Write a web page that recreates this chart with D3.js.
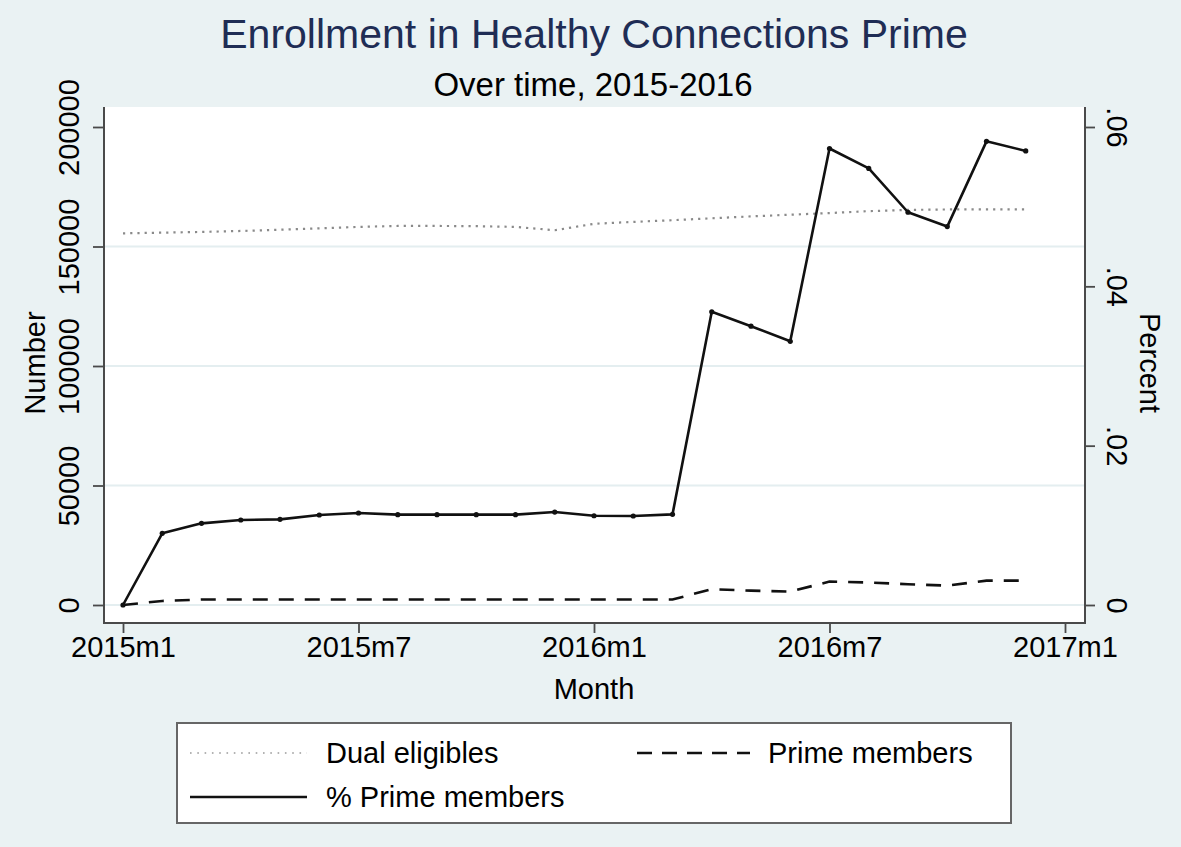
<!DOCTYPE html>
<html>
<head>
<meta charset="utf-8">
<script src="https://cdn.jsdelivr.net/npm/d3@7"></script>
<style>
  html, body { margin: 0; padding: 0; background: #EAF2F3; }
  svg { display: block; }
  text { font-family: Helvetica, "Liberation Sans", Arial, sans-serif; }
</style>
</head>
<body>
<svg id="chart" width="1181" height="847"></svg>
<script>
// ---------------- data ----------------
const months = ["2015m1","2015m2","2015m3","2015m4","2015m5","2015m6","2015m7","2015m8","2015m9","2015m10","2015m11","2015m12",
                "2016m1","2016m2","2016m3","2016m4","2016m5","2016m6","2016m7","2016m8","2016m9","2016m10","2016m11","2016m12"];
const dualEligibles = [155500,155800,156100,156500,157000,157600,158200,158600,158600,158500,158200,156800,
                       159500,160300,161000,161800,162600,163300,164000,164800,165300,165500,165500,165500];
const primeMembers = [0,1700,2300,2300,2300,2300,2300,2300,2300,2300,2300,2300,
                      2300,2300,2300,6600,6000,5600,9800,9400,8700,8100,10200,10200];
const pctPrime = [0,0.0090,0.01025,0.01067,0.01075,0.0113,0.01155,0.01134,0.01134,0.01134,0.01134,0.01167,
                  0.0112,0.01117,0.01138,0.0368,0.0350,0.0331,0.0573,0.0548,0.0493,0.0475,0.0582,0.0570];
const xTickLabels = ["2015m1","2015m7","2016m1","2016m7","2017m1"];
const xTickIndex = [0,6,12,18,24];
const leftTicks = [0,50000,100000,150000,200000];
const leftGrid = [0,50000,100000,150000];
const rightTicks = [0,0.02,0.04,0.06];
const titleText = "Enrollment in Healthy Connections Prime";
const subtitleText = "Over time, 2015-2016";

// ---------------- layout ----------------
const W = 1181, H = 847;
const P = { left: 104, right: 1085, top: 107, bottom: 623 };
const FS = 29;
const svg = d3.select("#chart");

svg.append("rect").attr("x",0).attr("y",0).attr("width",W).attr("height",H).attr("fill","#EAF2F3");
svg.append("rect").attr("x",P.left).attr("y",P.top).attr("width",P.right-P.left).attr("height",P.bottom-P.top).attr("fill","#ffffff");

const x = d3.scaleLinear().domain([0,24]).range([123,1065]);
const yL = d3.scaleLinear().domain([0,200000]).range([605,127]);
const yR = d3.scaleLinear().domain([0,0.06]).range([605,127]);

// grid
svg.append("g").selectAll("line").data(leftGrid).join("line")
  .attr("x1",P.left).attr("x2",P.right)
  .attr("y1",d=>yL(d)).attr("y2",d=>yL(d))
  .attr("stroke","#E4EEF0").attr("stroke-width",2);

// series
const lineDual = d3.line().x((d,i)=>x(i)).y(d=>yL(d));
const lineRight = d3.line().x((d,i)=>x(i)).y(d=>yR(d));

svg.append("path").datum(dualEligibles).attr("d",lineDual)
  .attr("fill","none").attr("stroke","#8a8a8a").attr("stroke-width",2.2).attr("stroke-dasharray","2.2,5");
svg.append("path").datum(primeMembers).attr("d",lineDual)
  .attr("fill","none").attr("stroke","#111").attr("stroke-width",2.6).attr("stroke-dasharray","15,11");
svg.append("path").datum(pctPrime).attr("d",lineRight)
  .attr("fill","none").attr("stroke","#111").attr("stroke-width",2.6).attr("stroke-linejoin","round");
svg.append("g").selectAll("circle").data(pctPrime).join("circle")
  .attr("cx",(d,i)=>x(i)).attr("cy",d=>yR(d)).attr("r",2.6).attr("fill","#111");

// axes
const axisColor = "#4a4a4a";
function styleAxis(g){
  g.select(".domain").remove();
  g.selectAll(".tick line").attr("stroke",axisColor).attr("stroke-width",1.8);
  g.selectAll(".tick text").attr("fill","#000").style("font-size",FS+"px");
}
const gx = svg.append("g").attr("transform",`translate(0,${P.bottom})`)
  .call(d3.axisBottom(x).tickValues(xTickIndex).tickFormat((d,i)=>xTickLabels[i]).tickSize(10));
styleAxis(gx);
gx.selectAll(".tick text").attr("y",34).attr("dy",0);

const gl = svg.append("g").attr("transform",`translate(${P.left},0)`)
  .call(d3.axisLeft(yL).tickValues(leftTicks).tickFormat(d3.format("d")).tickSize(11));
styleAxis(gl);
gl.selectAll(".tick text").attr("x",0).attr("dy",0).attr("text-anchor","middle")
  .attr("transform","translate(-25,0) rotate(-90)");

const gr = svg.append("g").attr("transform",`translate(${P.right},0)`)
  .call(d3.axisRight(yR).tickValues(rightTicks).tickFormat(d => d===0 ? "0" : d3.format(".2f")(d).replace(/^0/,"")).tickSize(10));
styleAxis(gr);
gr.selectAll(".tick text").attr("x",0).attr("dy",0).attr("text-anchor","middle")
  .attr("transform","translate(22,0) rotate(90)");

// axis lines (left, bottom, right)
svg.append("path")
  .attr("d",`M${P.left},${P.top}V${P.bottom}H${P.right}V${P.top}`)
  .attr("fill","none").attr("stroke",axisColor).attr("stroke-width",2);

// axis titles
svg.append("text").attr("transform",`translate(45,${(P.top+P.bottom)/2-2}) rotate(-90)`)
  .attr("text-anchor","middle").style("font-size",FS+"px").text("Number");
svg.append("text").attr("transform",`translate(1140,${(P.top+P.bottom)/2-2}) rotate(90)`)
  .attr("text-anchor","middle").style("font-size",FS+"px").text("Percent");
svg.append("text").attr("x",594).attr("y",699).attr("text-anchor","middle").style("font-size",FS+"px").text("Month");

// titles
svg.append("text").attr("x",594).attr("y",48).attr("text-anchor","middle")
  .style("font-size","41px").attr("fill","#1f2d55").text(titleText);
svg.append("text").attr("x",593).attr("y",96).attr("text-anchor","middle")
  .style("font-size","33px").attr("fill","#000").text(subtitleText);

// legend
const lg = svg.append("g");
lg.append("rect").attr("x",177).attr("y",723).attr("width",834).attr("height",100)
  .attr("fill","#fff").attr("stroke","#666").attr("stroke-width",2);
const legendItems = [
  { label: "Dual eligibles", x0: 190, x1: 307, tx: 326, y: 753, color: "#9a9a9a", width: 1.6, dash: "1.6,5.7" },
  { label: "Prime members", x0: 637, x1: 750, tx: 768, y: 753, color: "#111", width: 2.6, dash: "15,10" },
  { label: "% Prime members", x0: 190, x1: 307, tx: 326, y: 797, color: "#111", width: 2.6, dash: null }
];
legendItems.forEach(it => {
  const l = lg.append("line").attr("x1",it.x0).attr("x2",it.x1).attr("y1",it.y).attr("y2",it.y)
    .attr("stroke",it.color).attr("stroke-width",it.width);
  if (it.dash) l.attr("stroke-dasharray",it.dash);
  lg.append("text").attr("x",it.tx).attr("y",it.y+10).style("font-size",FS+"px").text(it.label);
});
</script>
</body>
</html>
